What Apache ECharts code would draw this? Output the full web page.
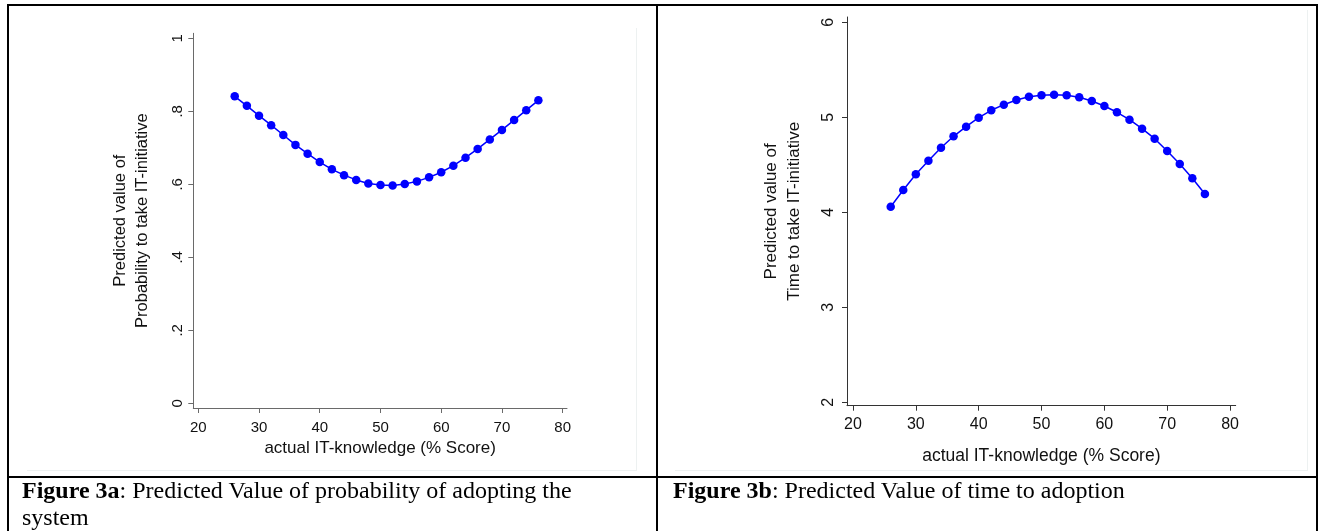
<!DOCTYPE html>
<html>
<head>
<meta charset="utf-8">
<script src="https://cdn.jsdelivr.net/npm/echarts@6/dist/echarts.min.js"></script>
<style>
  body { margin: 0; background: #fff; }
  #page { position: relative; width: 1320px; height: 531px; overflow: hidden; background: #fff; }
  #chart { position: absolute; left: 0; top: 0; width: 1320px; height: 531px; }
  .rule { position: absolute; background: #000; }
  .faint { position: absolute; background: #edf1f1; }
  .caption {
    position: absolute;
    font-family: 'Liberation Serif', 'Times New Roman', serif;
    font-size: 24px;
    line-height: 27px;
    color: #000;
    white-space: nowrap;
  }
</style>
</head>
<body>
<div id="page">
  <div id="chart"></div>

  <!-- faint borders of the pasted graph images -->
  <div class="faint" style="left:27px; top:470px; width:610px; height:1px;"></div>
  <div class="faint" style="left:636px; top:28px; width:1px; height:443px;"></div>
  <div class="faint" style="left:675px; top:470px; width:633px; height:1px;"></div>
  <div class="faint" style="left:1307px; top:10px; width:1px; height:461px;"></div>

  <!-- table rules -->
  <div class="rule" style="left:7px; top:4px; width:1311px; height:2px;"></div>
  <div class="rule" style="left:7px; top:4px; width:2px; height:527px;"></div>
  <div class="rule" style="left:656px; top:4px; width:2px; height:527px;"></div>
  <div class="rule" style="left:1316px; top:4px; width:2px; height:527px;"></div>
  <div class="rule" style="left:7px; top:476px; width:1311px; height:2px;"></div>

  <div class="caption" style="left:22px; top:477px;"><b>Figure 3a</b>: Predicted Value of probability of adopting the<br>system</div>
  <div class="caption" style="left:673px; top:477px;"><b>Figure 3b</b>: Predicted Value of time to adoption</div>
</div>

<script>
// actual IT-knowledge (% score), same for both panels
const knowledge = [26, 28, 30, 32, 34, 36, 38, 40, 42, 44, 46, 48, 50,
                   52, 54, 56, 58, 60, 62, 64, 66, 68, 70, 72, 74, 76];

// predicted probability to take IT-initiative (fig 3a)
const probPredicted = [0.841, 0.815, 0.788, 0.762, 0.735, 0.708, 0.684, 0.661, 0.641,
                       0.625, 0.612, 0.602, 0.598, 0.597, 0.601, 0.608, 0.619, 0.633,
                       0.651, 0.673, 0.697, 0.723, 0.749, 0.776, 0.803, 0.830];

// predicted time to take IT-initiative (fig 3b)
const timePredicted = [4.059, 4.235, 4.400, 4.543, 4.680, 4.800, 4.901, 4.996, 5.074,
                       5.133, 5.182, 5.217, 5.232, 5.238, 5.232, 5.211, 5.172, 5.119,
                       5.053, 4.975, 4.880, 4.775, 4.645, 4.508, 4.358, 4.193];

const xTicks = [20, 30, 40, 50, 60, 70, 80];
const probTicks = [0, 0.2, 0.4, 0.6, 0.8, 1];
const timeTicks = [2, 3, 4, 5, 6];

const sans = "'Liberation Sans', Arial, sans-serif";
const blue = '#0000ff';

// stata style labels: ".8" instead of "0.8"
const stataNum = (v) => (v === 0 ? '0' : String(v).replace(/^0\./, '.'));

function xAxisFor(gridIndex, o) {
  return {
    type: 'value',
    gridIndex,
    min: o.min,
    max: o.max,
    name: 'actual IT-knowledge (% Score)',
    nameLocation: 'middle',
    nameGap: o.nameGap,
    nameTextStyle: { fontFamily: sans, fontSize: o.nameSize, color: '#111' },
    axisLine: { show: true, onZero: false, lineStyle: { color: o.color, width: 1 } },
    axisTick: { show: true, length: 5, customValues: xTicks, lineStyle: { color: o.color } },
    axisLabel: {
      customValues: xTicks,
      margin: o.margin,
      fontFamily: sans,
      fontSize: o.labelSize,
      color: '#111',
    },
    splitLine: { show: false },
  };
}

function yAxisFor(gridIndex, o) {
  return {
    type: 'value',
    gridIndex,
    min: o.min,
    max: o.max,
    name: o.name,
    nameLocation: 'middle',
    nameGap: o.nameGap,
    nameTextStyle: { fontFamily: sans, fontSize: o.nameSize, lineHeight: o.nameLine, color: '#111' },
    axisLine: { show: true, onZero: false, lineStyle: { color: o.color, width: 1 } },
    axisTick: { show: true, length: 5, customValues: o.ticks, lineStyle: { color: o.color } },
    axisLabel: {
      customValues: o.ticks,
      rotate: 90,
      margin: o.margin,
      fontFamily: sans,
      fontSize: o.labelSize,
      color: '#111',
      formatter: stataNum,
    },
    splitLine: { show: false },
  };
}

function lineSeries(i, values) {
  return {
    type: 'line',
    xAxisIndex: i,
    yAxisIndex: i,
    data: knowledge.map((k, j) => [k, values[j]]),
    symbol: 'circle',
    symbolSize: 8.5,
    lineStyle: { color: blue, width: 1.5 },
    itemStyle: { color: blue },
    emphasis: { disabled: true },
  };
}

const chart = echarts.init(document.getElementById('chart'), null, { renderer: 'canvas' });

chart.setOption({
  animation: false,
  backgroundColor: 'transparent',
  grid: [
    { left: 193.3, top: 33.3, width: 373.7, height: 374.7 },
    { left: 847, top: 17, width: 388.7, height: 388.7 },
  ],
  xAxis: [
    xAxisFor(0, { min: 19.18, max: 80.71, nameGap: 31, nameSize: 17, labelSize: 15, margin: 12, color: '#6a6a6a' }),
    xAxisFor(1, { min: 19.045, max: 80.9, nameGap: 41, nameSize: 17.5, labelSize: 16, margin: 11, color: '#333' }),
  ],
  yAxis: [
    yAxisFor(0, {
      min: -0.0129, max: 1.0137, ticks: probTicks,
      name: 'Predicted value of\nProbability to take IT-initiative',
      nameGap: 40, nameSize: 16.5, nameLine: 22, labelSize: 15, margin: 8, color: '#6a6a6a',
    }),
    yAxisFor(1, {
      min: 1.964, max: 6.056, ticks: timeTicks,
      name: 'Predicted value of\nTime to take IT-initiative',
      nameGap: 41, nameSize: 17, nameLine: 23, labelSize: 16, margin: 10, color: '#333',
    }),
  ],
  series: [
    lineSeries(0, probPredicted),
    lineSeries(1, timePredicted),
  ],
});

window.addEventListener('resize', () => chart.resize());
</script>
</body>
</html>
